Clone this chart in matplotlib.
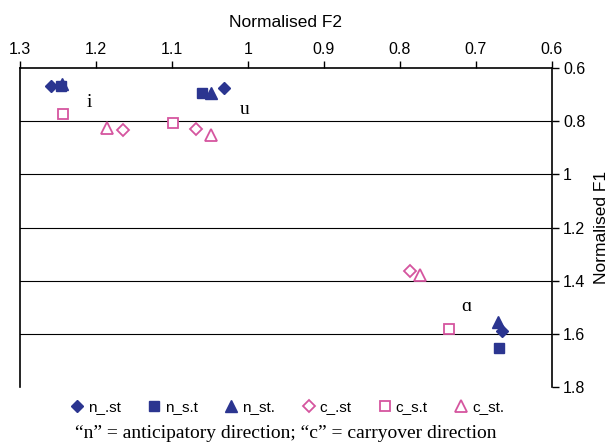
import matplotlib
matplotlib.use("Agg")
import matplotlib.pyplot as plt
import numpy as np

plt.rcParams['font.family'] = ['Liberation Sans', 'DejaVu Sans']

blue = '#2b3590'
pink = '#d5559f'

# (F2, F1) per series
n_st_f2 = [1.259, 1.031, 0.666]
n_st_f1 = [0.668, 0.676, 1.589]
n_s_t_f2 = [1.246, 1.060, 0.670]
n_s_t_f1 = [0.666, 0.695, 1.654]
n_st_dot_f2 = [1.245, 1.049, 0.671]
n_st_dot_f1 = [0.660, 0.693, 1.557]
c_st_f2 = [1.165, 1.068, 0.787]
c_st_f1 = [0.832, 0.828, 1.362]
c_s_t_f2 = [1.244, 1.099, 0.735]
c_s_t_f1 = [0.773, 0.808, 1.582]
c_st_dot_f2 = [1.186, 1.048, 0.774]
c_st_dot_f1 = [0.824, 0.853, 1.378]

vowels = ['i', 'u', 'ɑ']
vowel_f2 = [1.209, 1.005, 0.713]
vowel_f1 = [0.730, 0.757, 1.497]

fig = plt.figure(figsize=(6.15, 4.46), dpi=100)
ax = fig.add_axes([0.0325, 0.1323, 0.8650, 0.7152])

ms = 7.5
ax.plot(n_st_f2, n_st_f1, 'D', color=blue, ms=ms - 1, ls='none', label='n_.st')
ax.plot(n_s_t_f2, n_s_t_f1, 's', color=blue, ms=ms, ls='none', label='n_s.t')
ax.plot(n_st_dot_f2, n_st_dot_f1, '^', color=blue, ms=ms + 1, ls='none', label='n_st.')
ax.plot(c_st_f2, c_st_f1, 'D', mfc='white', mec=pink, mew=1.3, ms=ms - 1, ls='none', label='c_.st')
ax.plot(c_s_t_f2, c_s_t_f1, 's', mfc='white', mec=pink, mew=1.3, ms=ms, ls='none', label='c_s.t')
ax.plot(c_st_dot_f2, c_st_dot_f1, '^', mfc='white', mec=pink, mew=1.3, ms=ms + 1, ls='none', label='c_st.')

for v, x, y in zip(vowels, vowel_f2, vowel_f1):
    ax.text(x, y, v, ha='center', va='center', fontsize=14,
            family=['Liberation Serif', 'DejaVu Serif'])

ax.set_xlim(1.3, 0.6)
ax.set_ylim(1.8, 0.6)
ax.set_xticks(np.arange(0.6, 1.31, 0.1))
ax.set_xticklabels(['0.6', '0.7', '0.8', '0.9', '1', '1.1', '1.2', '1.3'])
ax.set_yticks(np.arange(0.6, 1.81, 0.2))
ax.set_yticklabels(['0.6', '0.8', '1', '1.2', '1.4', '1.6', '1.8'])

ax.xaxis.set_ticks_position('top')
ax.xaxis.set_label_position('top')
ax.yaxis.set_ticks_position('right')
ax.yaxis.set_label_position('right')
ax.tick_params(axis='both', direction='out', length=5, width=1, labelsize=11.5, pad=3)
ax.set_xlabel('Normalised F2', fontsize=12.5, labelpad=11)
ax.set_ylabel('Normalised F1', fontsize=12.5, labelpad=6)

ax.spines['bottom'].set_visible(False)
for s in ['top', 'left', 'right']:
    ax.spines[s].set_linewidth(1.2)
for g in [0.8, 1.0, 1.2, 1.4, 1.6]:
    ax.axhline(g, color='black', lw=0.8, zorder=0)

ax.legend(loc='upper center', bbox_to_anchor=(0.5, 0.0), ncol=6, frameon=False,
          fontsize=11, handletextpad=0.1, columnspacing=1.6, handlelength=1.2)

fig.text(0.465, 0.028, '\u201cn\u201d = anticipatory direction; \u201cc\u201d = carryover direction',
         ha='center', va='center', fontsize=14,
         family=['Liberation Serif', 'DejaVu Serif'])

fig.savefig('out.png', dpi=100)
